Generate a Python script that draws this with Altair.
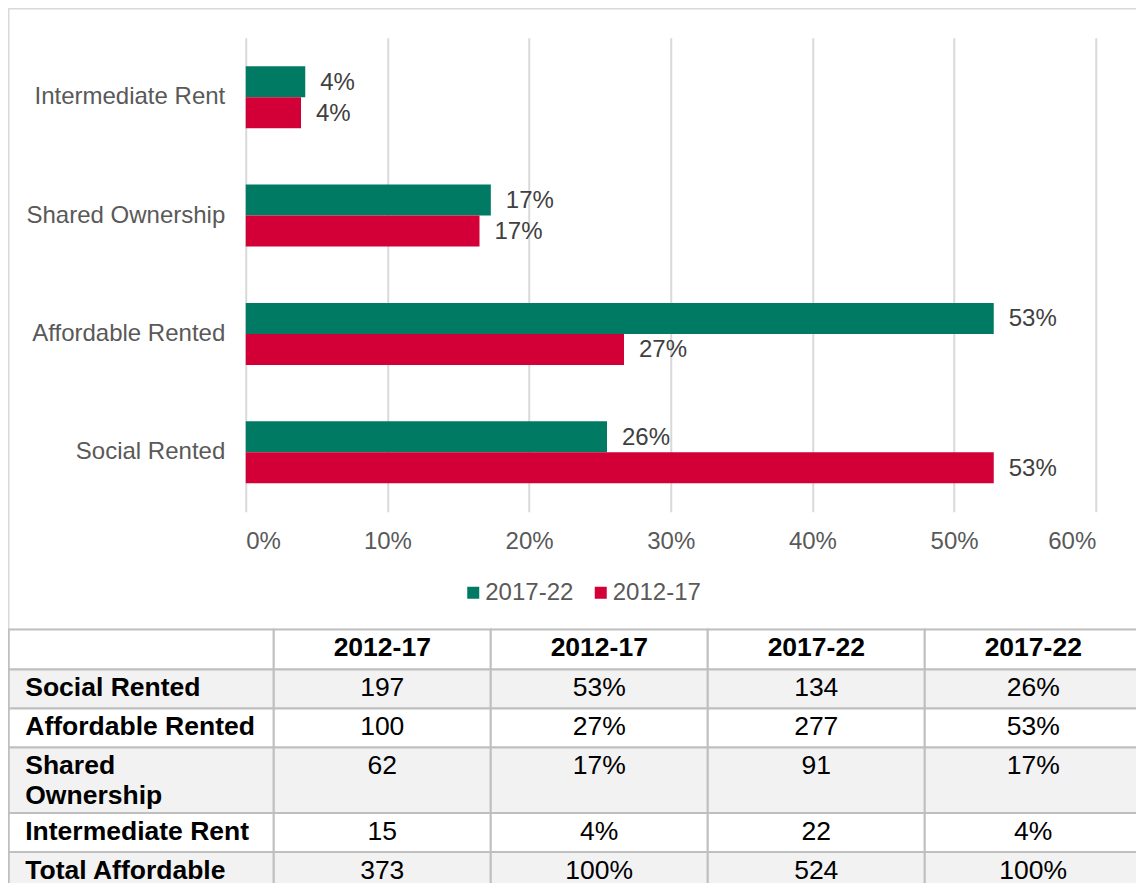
import altair as alt
import pandas as pd

# ---------------- data ----------------
categories = ["Intermediate Rent", "Shared Ownership", "Affordable Rented", "Social Rented"]
periods = ["2017-22", "2012-17"]
share_2017_22 = [0.042, 0.173, 0.528, 0.255]
share_2012_17 = [0.039, 0.165, 0.267, 0.528]
label_2017_22 = ["4%", "17%", "53%", "26%"]
label_2012_17 = ["4%", "17%", "27%", "53%"]
x_ticks = [0.0, 0.1, 0.2, 0.3, 0.4, 0.5, 0.6]

table_header = ["", "2012-17", "2012-17", "2017-22", "2017-22"]
table_rows = ["Social Rented", "Affordable Rented", "Shared\nOwnership",
              "Intermediate Rent", "Total Affordable"]
units_2012_17 = ["197", "100", "62", "15", "373"]
pct_2012_17 = ["53%", "27%", "17%", "4%", "100%"]
units_2017_22 = ["134", "277", "91", "22", "524"]
pct_2017_22 = ["26%", "53%", "17%", "4%", "100%"]

# ---------------- style / layout ----------------
GREEN = "#007A62"
RED = "#D20036"
FONT = "Liberation Sans"
FS = 24
TFS = 26.5
AXIS_GREY = "#595959"
LABEL_GREY = "#404040"
W, H = 850, 474
PAD = {"left": 237.75, "top": 29.75, "right": 40, "bottom": 371.25}

# layout space for frame and table (pixels from the frame's top-left)
ORIGIN_X, ORIGIN_Y = 237, 29
LAYOUT_W, LAYOUT_H = 1136, 882
FRAME_BOTTOM = 620.75
COL_W = [265, 217, 217, 217, 217]
ROW_H = [40, 39, 39, 65.5, 39, 39]
TEXT_FIRST = 18.5
LINE_H = 30
TEXT_PAD = 16.5
ROW_FILL = ["#FFFFFF", "#F2F2F2", "#FFFFFF", "#F2F2F2", "#FFFFFF", "#F2F2F2"]

# ---------------- bar chart ----------------
bar_rows = []
for i, c in enumerate(categories):
    bar_rows.append({"category": c, "period": "2017-22", "share": share_2017_22[i],
                     "label": label_2017_22[i]})
    bar_rows.append({"category": c, "period": "2012-17", "share": share_2012_17[i],
                     "label": label_2012_17[i]})
bars_df = pd.DataFrame(bar_rows)

base = alt.Chart(bars_df).encode(
    y=alt.Y("category:N", sort=categories,
            scale=alt.Scale(paddingInner=0.476, paddingOuter=0.24),
            axis=alt.Axis(title=None, domain=False, ticks=False, grid=False,
                          labelFontSize=FS, labelFont=FONT, labelColor=AXIS_GREY,
                          labelPadding=21, labelLimit=400)),
    yOffset=alt.YOffset("period:N", sort=periods, scale=alt.Scale(domain=periods)),
)

bars = base.mark_bar().encode(
    x=alt.X("share:Q", scale=alt.Scale(domain=[0, 0.6], nice=False),
            axis=alt.Axis(values=x_ticks, format=".0%", title=None, domain=False,
                          ticks=False, grid=True, gridColor="#D9D9D9", gridWidth=2,
                          labelFontSize=FS, labelFont=FONT, labelColor=AXIS_GREY,
                          labelPadding=18)),
    color=alt.Color("period:N", sort=periods,
                    scale=alt.Scale(domain=periods, range=[GREEN, RED]),
                    legend=alt.Legend(orient="none", legendX=215.5, legendY=543,
                                      direction="horizontal", title=None,
                                      symbolType="square", symbolSize=144,
                                      symbolStrokeWidth=0, labelFontSize=FS,
                                      labelFont=FONT, labelColor=AXIS_GREY,
                                      labelOffset=0, columnPadding=14.5, padding=0)),
)

labels = base.mark_text(align="left", baseline="middle", dx=15, dy=1, fontSize=FS,
                        font=FONT, color=LABEL_GREY).encode(
    x=alt.X("share:Q"),
    text=alt.Text("label:N"),
)

bar_group = alt.layer(bars, labels)

# ---------------- frame + table ----------------
col_x = [0]
for w in COL_W:
    col_x.append(col_x[-1] + w)
row_y = [FRAME_BOTTOM]
for h in ROW_H:
    row_y.append(row_y[-1] + h)

frame_df = pd.DataFrame([{"x0": 0, "x1": LAYOUT_W + 10, "y0": 0, "y1": FRAME_BOTTOM}])

cells = []
for r in range(len(ROW_H)):
    for c in range(len(COL_W)):
        cells.append({"x0": col_x[c], "x1": col_x[c + 1], "y0": row_y[r],
                      "y1": row_y[r + 1], "fill": ROW_FILL[r]})
cells_df = pd.DataFrame(cells)

header_txt, label_txt, value_txt = [], [], []
for c in range(1, len(COL_W)):
    header_txt.append({"x": (col_x[c] + col_x[c + 1]) / 2,
                       "y": row_y[0] + TEXT_FIRST, "t": table_header[c]})
value_cols = [units_2012_17, pct_2012_17, units_2017_22, pct_2017_22]
for r, name in enumerate(table_rows):
    top = row_y[r + 1]
    for k, line in enumerate(name.split("\n")):
        label_txt.append({"x": col_x[0] + TEXT_PAD,
                          "y": top + TEXT_FIRST + k * LINE_H, "t": line})
    for c, col in enumerate(value_cols):
        value_txt.append({"x": (col_x[c + 1] + col_x[c + 2]) / 2,
                          "y": top + TEXT_FIRST, "t": col[r]})

tx = alt.Scale(domain=[0, LAYOUT_W], range=[-ORIGIN_X, LAYOUT_W - ORIGIN_X], nice=False, zero=False)
ty = alt.Scale(domain=[0, LAYOUT_H], range=[-ORIGIN_Y, LAYOUT_H - ORIGIN_Y], nice=False, zero=False)

frame = alt.Chart(frame_df).mark_rect(fillOpacity=0, stroke="#D9D9D9", strokeWidth=1.5).encode(
    x=alt.X("x0:Q", scale=tx, axis=None), x2="x1",
    y=alt.Y("y0:Q", scale=ty, axis=None), y2="y1",
)
cell_rects = alt.Chart(cells_df).mark_rect(stroke="#BFBFBF", strokeWidth=2).encode(
    x=alt.X("x0:Q", scale=tx, axis=None), x2="x1",
    y=alt.Y("y0:Q", scale=ty, axis=None), y2="y1",
    fill=alt.Fill("fill:N", scale=None),
)


def txt(df, align, weight):
    return alt.Chart(pd.DataFrame(df)).mark_text(
        align=align, baseline="middle", fontSize=TFS, font=FONT,
        fontWeight=weight, color="#000000").encode(
        x=alt.X("x:Q", scale=tx, axis=None),
        y=alt.Y("y:Q", scale=ty, axis=None),
        text="t:N",
    )


table_group = alt.layer(
    frame, cell_rects,
    txt(header_txt, "center", "bold"),
    txt(label_txt, "left", "bold"),
    txt(value_txt, "center", "normal"),
)

chart = alt.layer(bar_group, table_group).resolve_scale(
    x="independent", y="independent"
).properties(
    width=W, height=H, padding=PAD, background="#FFFFFF",
    autosize=alt.AutoSizeParams(type="none"),
).configure_view(strokeWidth=0)

chart.save("out.html", embed_options={"renderer": "svg", "actions": False})
